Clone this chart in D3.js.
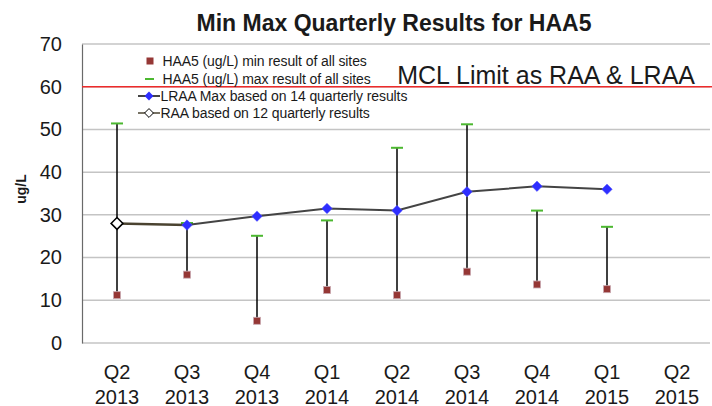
<!DOCTYPE html>
<html><head><meta charset="utf-8">
<script src="https://cdn.jsdelivr.net/npm/d3@7"></script>
<style>
html,body{margin:0;padding:0;background:#fff;}
svg{display:block;font-family:"Liberation Sans",Arial,sans-serif;}
</style></head>
<body><svg id="c" width="712" height="406"></svg>
<script>
const categories = ["Q2|2013","Q3|2013","Q4|2013","Q1|2014","Q2|2014","Q3|2014","Q4|2014","Q1|2015","Q2|2015"];
const minValues = [11.2, 16.0, 5.2, 12.4, 11.2, 16.7, 13.7, 12.6, null];
const maxValues = [51.4, 28.1, 25.1, 28.7, 45.7, 51.2, 31.0, 27.2, null];
const lraaValues = [null, 27.6, 29.7, 31.5, 31.0, 35.4, 36.7, 36.0, null];
const raaValues = [28.0, 27.6, null, null, null, null, null, null, null];
const yTicks = [0,10,20,30,40,50,60,70];
const mclLimit = 60;
const legendLabels = ["HAA5 (ug/L) min result of all sites","HAA5 (ug/L) max result of all sites","LRAA Max based on 14 quarterly results","RAA based on 12 quarterly results"];

const svg = d3.select("#c");
const L=82, R=712, T=44, B=343;
const x = d3.scaleBand().domain(categories).range([L,R]);
const y = d3.scaleLinear().domain([0,70]).range([B,T]);
const cx = c => x(c)+x.bandwidth()/2;

// gridlines
svg.append("g").selectAll("line").data(yTicks).join("line")
  .attr("x1",L).attr("x2",710).attr("y1",d=>y(d)).attr("y2",d=>y(d))
  .attr("stroke","#c4c4c4").attr("stroke-width",1.5);

// y axis
const yAxis = d3.axisLeft(y).tickValues(yTicks).tickSize(0).tickPadding(20);
const ga = svg.append("g").attr("transform",`translate(${L},0)`).call(yAxis);
ga.select(".domain").attr("stroke","#6a6a6a").attr("stroke-width",1.2);
ga.selectAll("text").attr("font-size",20).attr("fill","#1a1a1a").attr("font-family","Liberation Sans, Arial, sans-serif");

// x axis labels
const xAxis = d3.axisBottom(x).tickSize(0).tickFormat(()=>"");
const gx = svg.append("g").attr("transform",`translate(0,${B})`).call(xAxis);
gx.select(".domain").remove();
gx.selectAll(".tick").each(function(d){
  const parts = d.split("|");
  const t = d3.select(this).append("text").attr("fill","#1a1a1a").attr("font-size",20).attr("text-anchor","middle");
  t.append("tspan").attr("x",0).attr("y",36).text(parts[0]);
  t.append("tspan").attr("x",0).attr("y",60.5).text(parts[1]);
});

// y label
svg.append("text").attr("transform",`translate(26,${189}) rotate(-90)`).attr("text-anchor","middle")
  .attr("font-size",14).attr("font-weight","bold").attr("fill","#1a1a1a").text("ug/L");

// title
svg.append("text").attr("x",394).attr("y",31).attr("text-anchor","middle").attr("font-size",23)
  .attr("font-weight","bold").attr("fill","#1a1a1a").text("Min Max Quarterly Results for HAA5");

// MCL line
svg.append("line").attr("x1",L).attr("x2",R).attr("y1",y(mclLimit)).attr("y2",y(mclLimit))
  .attr("stroke","#ee2a2a").attr("stroke-width",1.5);
svg.append("text").attr("x",695).attr("y",y(mclLimit)-3).attr("text-anchor","end")
  .attr("font-family","Liberation Sans Narrow, Arial Narrow, sans-serif").attr("font-size",25)
  .attr("fill","#1a1a1a").text("MCL Limit as RAA & LRAA");

// error bars
const idx = d3.range(categories.length).filter(i=>minValues[i]!=null);
svg.append("g").selectAll("line").data(idx).join("line")
  .attr("x1",i=>cx(categories[i])).attr("x2",i=>cx(categories[i]))
  .attr("y1",i=>y(minValues[i])).attr("y2",i=>y(maxValues[i]))
  .attr("stroke","#000").attr("stroke-width",1.5);
svg.append("g").selectAll("line").data(idx).join("line")
  .attr("x1",i=>cx(categories[i])-6).attr("x2",i=>cx(categories[i])+6)
  .attr("y1",i=>y(maxValues[i])).attr("y2",i=>y(maxValues[i]))
  .attr("stroke","#4cb830").attr("stroke-width",2);
svg.append("g").selectAll("rect").data(idx).join("rect")
  .attr("x",i=>cx(categories[i])-3.5).attr("y",i=>y(minValues[i])-3.5).attr("width",7).attr("height",7)
  .attr("fill","#953735").attr("stroke","#c9a9b0").attr("stroke-width",0.8);

// RAA / LRAA lines
const line = d3.line().defined(d=>d.v!=null).x(d=>cx(d.c)).y(d=>y(d.v));
const raaData = categories.map((c,i)=>({c,v:raaValues[i]}));
const lraaData = categories.map((c,i)=>({c,v:lraaValues[i]}));
svg.append("path").datum(raaData).attr("d",line).attr("fill","none").attr("stroke","#4a4330").attr("stroke-width",2.5);
svg.append("path").datum(lraaData).attr("d",line).attr("fill","none").attr("stroke","#444").attr("stroke-width",2);
const diamond = d3.symbol().type(d3.symbolDiamond2);
svg.append("g").selectAll("path").data(raaData.filter((d,i)=>d.v!=null && lraaValues[i]==null)).join("path")
  .attr("transform",d=>`translate(${cx(d.c)},${y(d.v)})`).attr("d",diamond.size(90)())
  .attr("fill","#fff").attr("stroke","#000").attr("stroke-width",1.5);
svg.append("g").selectAll("path").data(lraaData.filter(d=>d.v!=null)).join("path")
  .attr("transform",d=>`translate(${cx(d.c)},${y(d.v)})`).attr("d",diamond.size(70)())
  .attr("fill","#2e2eff").attr("stroke","#5a5aff").attr("stroke-width",0.5);

// legend
const lg = svg.append("g");
const rows = [61,79,96,113];
lg.append("rect").attr("x",146.5).attr("y",rows[0]-3.5).attr("width",7).attr("height",7).attr("fill","#953735");
lg.append("line").attr("x1",145).attr("x2",154).attr("y1",rows[1]).attr("y2",rows[1]).attr("stroke","#4cb830").attr("stroke-width",2);
lg.append("line").attr("x1",138).attr("x2",160).attr("y1",rows[2]).attr("y2",rows[2]).attr("stroke","#444").attr("stroke-width",2);
lg.append("path").attr("transform",`translate(149,${rows[2]})`).attr("d",diamond.size(50)()).attr("fill","#2e2eff");
lg.append("line").attr("x1",138).attr("x2",160).attr("y1",rows[3]).attr("y2",rows[3]).attr("stroke","#4a4330").attr("stroke-width",1.5);
lg.append("path").attr("transform",`translate(149,${rows[3]})`).attr("d",diamond.size(50)()).attr("fill","#fff").attr("stroke","#000").attr("stroke-width",1);
lg.selectAll("text").data(legendLabels).join("text")
  .attr("x",(d,i)=>i<2?162.5:160.5).attr("y",(d,i)=>rows[i]+5).attr("font-size",14).attr("fill","#1a1a1a")
  .attr("letter-spacing","-0.1").text(d=>d);
</script></body></html>
